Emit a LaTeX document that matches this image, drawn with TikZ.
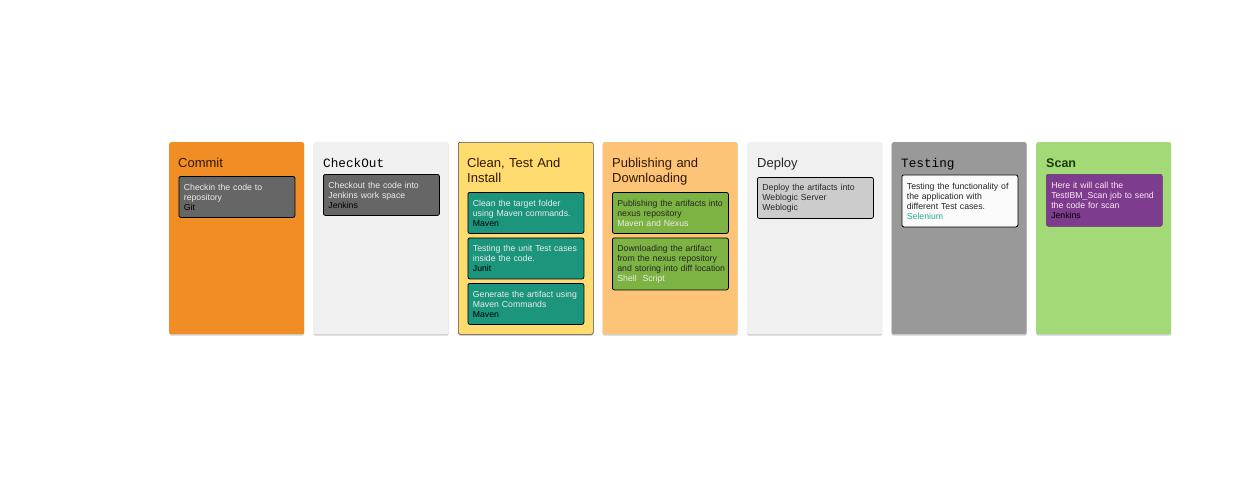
\documentclass[tikz,border=0pt]{standalone}
\usepackage{xcolor}
\usepackage{fontspec}
\setmainfont{Liberation Sans}
\newfontfamily\lanemono{Liberation Mono}
\usepackage{tikz}
\usetikzlibrary{shadows}

\definecolor{commitorange}{RGB}{240,141,36}
\definecolor{lanegray}{RGB}{240,240,240}
\definecolor{cleanyellow}{RGB}{255,219,112}
\definecolor{publishorange}{RGB}{253,195,119}
\definecolor{testgray}{RGB}{153,153,153}
\definecolor{scangreen}{RGB}{163,217,119}
\definecolor{carddark}{RGB}{102,102,102}
\definecolor{cardteal}{RGB}{27,150,125}
\definecolor{cardgreen}{RGB}{124,179,66}
\definecolor{cardlight}{RGB}{204,204,204}
\definecolor{cardpurple}{RGB}{125,60,142}
\definecolor{seleniumteal}{RGB}{40,170,150}
\definecolor{titlebrown}{RGB}{50,25,0}
\definecolor{titlegreen}{RGB}{25,60,10}

\tikzset{
  lane/.style={rectangle, rounded corners=2pt, anchor=north west, minimum width=135pt, minimum height=192pt, inner sep=0pt,
    drop shadow={shadow xshift=0pt, shadow yshift=-1.5pt, opacity=0.18, fill=black}},
  lanetitle/.style={anchor=base west, inner sep=0pt, align=left, text width=122pt, font=\fontsize{13}{15}\selectfont},
  card/.style={rectangle, rounded corners=2pt, draw=black, line width=0.8pt, anchor=north west, minimum width=116pt, minimum height=41pt,
    text width=106pt, inner xsep=5pt, inner ysep=0pt, align=left, font=\fontsize{8.7}{10}\selectfont},
  tallcard/.style={card, minimum height=52pt}
}

\begin{document}
\begin{tikzpicture}[x=1pt,y=1pt,yscale=-1,xscale=1]
  \useasboundingbox[fill=white] (0,0) rectangle (1234,491);

  % Lane: Commit
  \node [lane, fill=commitorange] (commit) at (169,142) {};
  \node [lanetitle, text=titlebrown] (committitle) at (178,167) {Commit};
  \node [card, fill=carddark, text=white!92!black] (checkin) at (178.5,176) {Checkin the code to\\repository\\\textcolor{black}{Git}};

  % Lane: CheckOut
  \node [lane, fill=lanegray] (checkout) at (313.5,142) {};
  \node [lanetitle, font=\lanemono\fontsize{12.7}{15}\selectfont] (checkouttitle) at (323,167) {CheckOut};
  \node [card, fill=carddark, text=white!92!black] (workspace) at (323,174) {Checkout the code into\\Jenkins work space\\\textcolor{black}{Jenkins}};

  % Lane: Clean, Test And Install
  \node [lane, fill=cleanyellow, draw=black!70, line width=0.6pt] (clean) at (458,142) {};
  \node [lanetitle, text=titlebrown] (cleantitle) at (467,167) {Clean, Test And\\Install};
  \node [card, fill=cardteal, text=white!92!black] (cleanfolder) at (467.5,192) {Clean the target folder\\using Maven commands.\\\textcolor{black}{Maven}};
  \node [card, fill=cardteal, text=white!92!black] (unittest) at (467.5,237.5) {Testing the unit Test cases\\inside the code.\\\textcolor{black}{Junit}};
  \node [card, fill=cardteal, text=white!92!black] (artifact) at (467.5,283) {Generate the artifact using\\Maven Commands\\\textcolor{black}{Maven}};

  % Lane: Publishing and Downloading
  \node [lane, fill=publishorange] (publish) at (602.5,142) {};
  \node [lanetitle, text=titlebrown] (publishtitle) at (612,167) {Publishing and\\Downloading};
  \node [card, fill=cardgreen, text=black!85] (nexus) at (612,192) {Publishing the artifacts into\\nexus repository\\\textcolor{white!92!black}{Maven and Nexus}};
  \node [tallcard, fill=cardgreen, text=black!85] (download) at (612,237.5) {Downloading the artifact\\from the nexus repository\\\mbox{and storing into diff location}\\\textcolor{white!92!black}{Shell\ \ Script}};

  % Lane: Deploy
  \node [lane, fill=lanegray] (deploy) at (747,142) {};
  \node [lanetitle, text=black!85] (deploytitle) at (757,167) {Deploy};
  \node [card, fill=cardlight, text=black!85] (weblogic) at (757,177) {Deploy the artifacts into\\Weblogic Server\\Weblogic};

  % Lane: Testing
  \node [lane, fill=testgray] (testing) at (891.5,142) {};
  \node [lanetitle, font=\lanemono\fontsize{12.7}{15}\selectfont] (testingtitle) at (901,167) {Testing};
  \node [tallcard, fill=white!98!black, text=black!85] (selenium) at (901.5,174.5) {Testing the functionality of\\the application with\\different Test cases.\\\textcolor{seleniumteal}{Selenium}};

  % Lane: Scan
  \node [lane, fill=scangreen] (scan) at (1036,142) {};
  \node [lanetitle, text=titlegreen, font=\bfseries\fontsize{12.5}{15}\selectfont] (scantitle) at (1046,167) {Scan};
  \node [tallcard, fill=cardpurple, draw=cardpurple!80!black, line width=0.5pt, text=white!90!magenta] (ibmscan) at (1046,174) {Here it will call the\\TestIBM\_Scan job to send\\the code for scan\\\textcolor{black}{Jenkins}};
\end{tikzpicture}
\end{document}
